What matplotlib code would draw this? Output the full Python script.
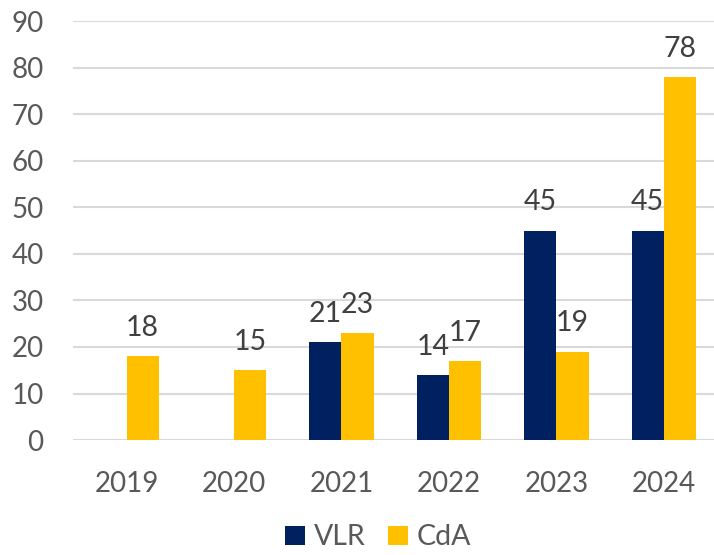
import matplotlib
matplotlib.use("Agg")
import matplotlib.pyplot as plt
import numpy as np

years = ["2019", "2020", "2021", "2022", "2023", "2024"]
vlr = [None, None, 21, 14, 45, 45]
cda = [18, 15, 23, 17, 19, 78]
series_names = ["VLR", "CdA"]
yticks = [0, 10, 20, 30, 40, 50, 60, 70, 80, 90]

plt.rcParams['font.family'] = ['Lato', 'DejaVu Sans']
txt = '#595959'
navy = '#002060'
gold = '#FFC000'

fig = plt.figure(figsize=(7.14, 5.55), dpi=100)
ax = fig.add_axes([0.102, 0.207, 0.903, 0.755])

x = np.arange(len(years))
w = 0.30
vlr_vals = [v if v is not None else 0 for v in vlr]
b1 = ax.bar(x - w/2, vlr_vals, w, color=navy, label=series_names[0], zorder=3)
b2 = ax.bar(x + w/2, cda, w, color=gold, label=series_names[1], zorder=3)

for i, v in enumerate(vlr):
    if v is not None:
        ax.annotate(str(v), (x[i] - w/2, v), xytext=(0, 11), textcoords='offset points',
                    ha='center', va='bottom', fontsize=20.5, color='#404040', zorder=4)
for i, v in enumerate(cda):
    ax.annotate(str(v), (x[i] + w/2, v), xytext=(0, 11), textcoords='offset points',
                ha='center', va='bottom', fontsize=20.5, color='#404040', zorder=4)

ax.set_xlim(-0.5, len(years) - 0.5)
ax.set_ylim(0, 90)
ax.set_yticks(yticks)
ax.set_yticklabels([str(t) for t in yticks], fontsize=20, color=txt)
ax.set_xticks(x)
ax.set_xticklabels(years, fontsize=20, color=txt)
ax.tick_params(axis='both', length=0)
ax.tick_params(axis='y', pad=21)
ax.tick_params(axis='x', pad=22)
ax.grid(axis='y', color='#D9D9D9', linewidth=1.5, zorder=0)
for s in ax.spines.values():
    s.set_visible(False)

leg = fig.legend(handles=[b1, b2], labels=series_names, loc='lower center',
                 bbox_to_anchor=(0.53, -0.038), ncol=2, frameon=False, fontsize=20.5,
                 handlelength=0.7, handleheight=0.7, handletextpad=0.3, columnspacing=0.8)
for t in leg.get_texts():
    t.set_color(txt)

fig.savefig("out.png", dpi=100)
